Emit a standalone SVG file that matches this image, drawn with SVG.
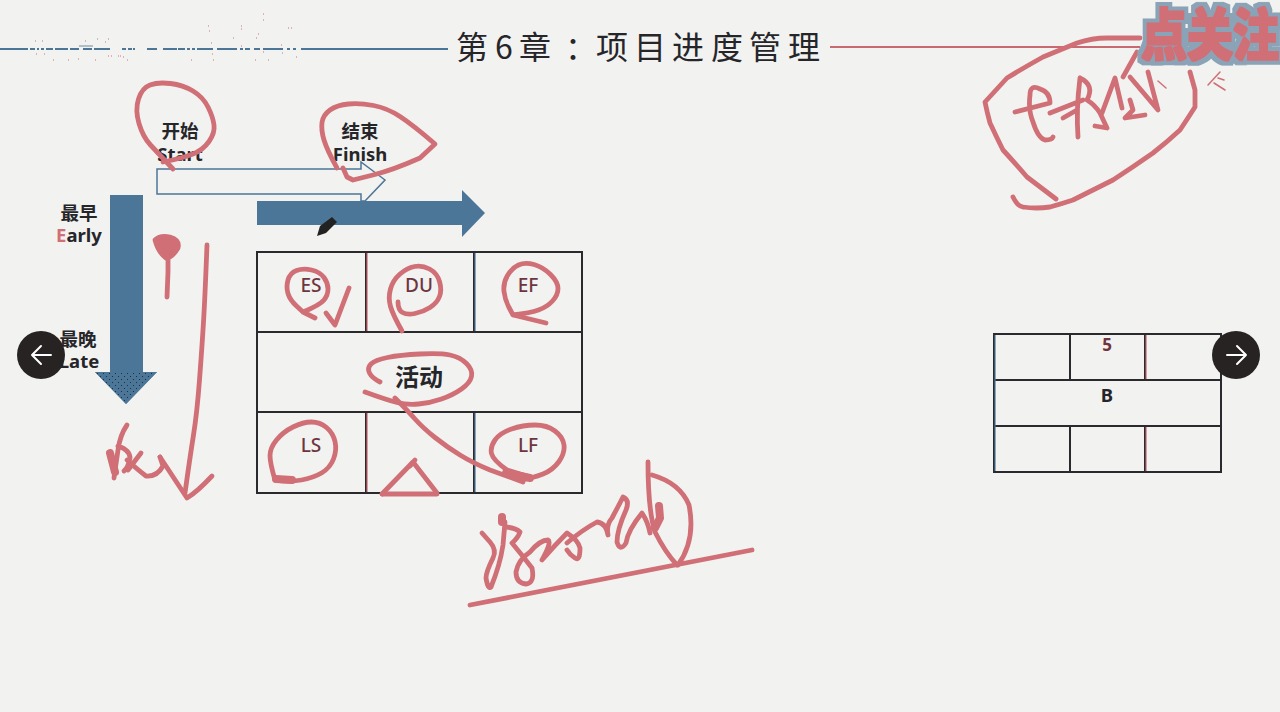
<svg xmlns="http://www.w3.org/2000/svg" width="1280" height="712" viewBox="0 0 1280 712">
<style>
.bg{fill:#f2f2f0}
.cjk{font-family:"Noto Sans CJK SC","Noto Sans",sans-serif}
.lbl{font-family:"Noto Sans","Noto Sans CJK SC",sans-serif;font-weight:700;font-size:18.500px;fill:#26262a;text-anchor:middle}
.cell{font-family:"Noto Sans","Noto Sans CJK SC",sans-serif;font-weight:500;font-size:19px;fill:#6e3540;text-anchor:middle}
.grid{fill:none;stroke:#2a2a2e;stroke-width:2}
.tint-r{fill:none;stroke:#c9636c;stroke-width:1.200}
.tint-b{fill:none;stroke:#4c7698;stroke-width:1.200}
.ink{fill:none;stroke:#d06f76;stroke-width:4.800;stroke-linecap:round;stroke-linejoin:round}
.thin{stroke-width:1.500}
.thick{stroke-width:8}
.blue{fill:#4c7698}
.btn{fill:#262322}
.chev{fill:none;stroke:#fff;stroke-width:2;stroke-linecap:round;stroke-linejoin:round}
</style>
<defs>
<pattern id="dots" width="6" height="6" patternUnits="userSpaceOnUse"><rect width="6" height="6" fill="#4c7698"/><rect x="1" y="1" width="1" height="1" fill="#22303c"/><rect x="4" y="4" width="1" height="1" fill="#22303c"/></pattern>
<filter id="halo" x="-10%" y="-30%" width="120%" height="160%" color-interpolation-filters="sRGB">
<feMorphology in="SourceAlpha" operator="dilate" radius="5" result="wide"/>
<feFlood flood-color="#8ba3b6"/>
<feComposite in2="wide" operator="in" result="ring"/>
<feMorphology in="SourceAlpha" operator="dilate" radius="1.200" result="fat"/>
<feFlood flood-color="#d06f76"/>
<feComposite in2="fat" operator="in" result="body"/>
<feMerge><feMergeNode in="ring"/><feMergeNode in="body"/></feMerge>
</filter>
</defs>
<rect class="bg" width="1280" height="712"/>

<g id="title">
<path d="M0 49H28M30 49H35M37 49H39M41 49H44M46 49H53M55 49H68M70 49H79M83 49H92M94 49H110M122 49H126M128 49H132M133 49H135M147 49H157M163 49H177M178 49H185M187 49H190M192 49H195M197 49H213M217 49H237M240 49H243M245 49H250M254 49H260M263 49H283M287 49H290M293 49H296M301 49H448" fill="none" stroke="#4c7698" stroke-width="1.800"/>
<path d="M79 46H93" stroke="#6b8aa5" stroke-width="1" fill="none"/>
<path d="M35 41h1M42 41h1M36 54h1M44 54h1M53 60h1M68 60h1M78 59h1M85 41h1M97 39h1M108 39h1M105 42h1M95 60h1M108 56h1M111 56h1M118 56h1M120 56h1M123 57h1M127 60h1M191 60h1M208 26h1M209 31h1M211 43h1M212 54h1M213 60h1M233 38h1M241 46h1M241 26h1M241 29h1M256 38h1M263 52h1M263 20h1M263 14h1M258 34h1M255 60h1M268 60h1M281 45h1M282 53h1M288 28h1M291 28h1M296 57h1" stroke="#d06f76" stroke-width="1" fill="none"/>
<path d="M830 47H1140" fill="none" stroke="#c96a72" stroke-width="2"/>
<text class="cjk" font-size="32" font-weight="400" fill="#26262a" y="59" x="456 495 519 565 596 634 672 711 749 788">第6章：项目进度管理</text>
</g>

<g id="node-start">
<text class="lbl" x="180" y="138">开始</text>
<text class="lbl" x="180" y="161">Start</text>
</g>
<g id="node-finish">
<text class="lbl" x="360" y="138">结束</text>
<text class="lbl" x="360" y="161">Finish</text>
</g>
<g id="node-early">
<text class="lbl" x="79" y="220">最早</text>
<text class="lbl" x="79" y="242"><tspan fill="#d06f76">E</tspan>arly</text>
</g>
<g id="node-late">
<text class="lbl" x="78" y="346">最晚</text>
<text class="lbl" x="79" y="368">Late</text>
</g>

<g id="arrows">
<path id="arrow-outline" d="M157 169H361V162L385 180L365 201H361V194H157Z" fill="#f2f2f0" stroke="#4c7698" stroke-width="1.500"/>
<path id="arrow-right" class="blue" d="M257 201H462V190L485 213L462 237V225H257Z"/>
<path id="arrow-down" class="blue" d="M110 195H143V372H157L126 404L95 372H110Z"/>
<path d="M95 372H157L126 404Z" fill="url(#dots)"/>
<path id="pen" d="M317 236L320 226L332 217L337 222L326 233Z" fill="#222"/>
</g>

<g id="node-activity-table">
<path class="grid" d="M257 252H582V493H257ZM257 332H582M257 412H582M366 252V332M474 252V332M366 412V493M474 412V493"/>
<path class="tint-r" d="M367 253V331M367 413V492"/>
<path class="tint-b" d="M475 253V331M475 413V492"/>
<text class="cell" x="311" y="292">ES</text>
<text class="cell" x="419" y="292">DU</text>
<text class="cell" x="528" y="292">EF</text>
<text class="cjk" x="419" y="386" font-size="24" font-weight="700" fill="#26262a" text-anchor="middle">活动</text>
<text class="cell" x="311" y="452">LS</text>
<text class="cell" x="528" y="452">LF</text>
</g>

<g id="node-b-table">
<path class="grid" d="M994 334H1221V472H994ZM994 380H1221M994 426H1221M1070 334V380M1145 334V380M1070 426V472M1145 426V472"/>
<path class="tint-r" d="M1146 335V379M1146 427V471"/>
<path class="tint-b" d="M995 335V471"/>
<text class="cell" x="1107" y="351" style="font-size:17px;font-weight:700">5</text>
<text class="lbl" x="1107" y="402">B</text>
</g>

<g id="ink" class="ink">
<path d="M173 169Q158 153 150.500 145Q143 137 139 123.500Q135 110 138.500 99Q142 88 150 85Q158 82 170.500 83.500Q183 85 193 91Q203 97 208 107Q213 117 214 125Q215 133 209 141.500Q203 150 193 154Q183 158 163 162"/>
<path d="M337 168Q327 150 324 140Q321 130 322 122.500Q323 115 330 110Q337 105 348.500 104Q360 103 373.500 105.500Q387 108 400 116.500Q413 125 435 144L420 158Q393 170 373 175L353 180L347 177L343 168"/>
<path d="M315 318L303 312L296.500 306Q290 300 288 293.500Q286 287 288 280Q290 273 296.500 270.500Q303 268 311.500 270Q320 272 324 277.500Q328 283 328 289Q328 295 324 300Q320 305 303 312"/>
<path d="M326 313L335 325L349 288"/>
<path d="M402 331Q393 315 390.500 306.500Q388 298 390.500 289Q393 280 400 274Q407 268 414.500 266.500Q422 265 429.500 269Q437 273 439.500 281.500Q442 290 439.500 296.500Q437 303 430 307.500Q423 312 415 313.500Q407 315 402.500 312.500Q398 310 398 302"/>
<path d="M546 323L513 315L509 307.500Q505 300 504 291.500Q503 283 507.500 275.500Q512 268 518.500 265Q525 262 534 264.500Q543 267 550.500 274.500Q558 282 558 288.500Q558 295 552.500 301Q547 307 538.500 310Q530 313 513 315"/>
<path d="M380 382Q372 378 369.500 373Q367 368 371 364Q375 360 387.500 357.500Q400 355 420 354Q440 353 450 355Q460 357 466.500 363.500Q473 370 471.500 376.500Q470 383 461.500 389Q453 395 441.500 399Q430 403 418.500 404Q407 405 397 402.500Q387 400 365 392"/>
<path d="M395 398Q407 410 415 419Q423 428 435 437.500Q447 447 460 455Q473 463 490 470L523 482"/>
<path d="M530 477L507 470Q493 460 491.500 453.500Q490 447 495 440Q500 433 511.500 429Q523 425 535 425Q547 425 555 431Q563 437 564 445Q565 453 559 461.500Q553 470 543 474Q533 478 520 480"/>
<path class="thick" d="M506 473L530 478"/>
<path d="M275 480Q270 463 270 455.500Q270 448 276.500 440Q283 432 293 427Q303 422 311.500 422Q320 422 326.500 427.500Q333 433 335 441.500Q337 450 333.500 459Q330 468 321.500 473Q313 478 301.500 480Q290 482 275 480"/>
<path class="thick" d="M276 479L292 480"/>
<path d="M382 494L413 462L437 493"/>
<path d="M382 494H437"/>
<path d="M410 466L415 460"/>
<path d="M207 245Q205 297 203.500 322Q202 347 199.500 380Q197 413 193.500 435Q190 457 185 493"/>
<path d="M160 457L187 498Q197 492 212 476"/>
<path d="M155 240Q160 235 170 237Q180 240 178 248Q172 258 166 258Q158 252 155 240Z" fill="#d06f76"/>
<path d="M168 258L168 272L167 297"/>
<path d="M127 425Q120 435 118 450L114 478M118 446Q130 450 130 458Q128 468 124 471M141 453L128 470M127 460Q138 470 146 476Q157 477 163 466L160 457"/>
<path class="thick" d="M110 453L115 472"/>
<path d="M482 533L490 542Q497 550 493 558Q486 572 486 578Q488 590 491 587Q500 565 503 545L505 522"/>
<path class="thick" d="M502 517V522"/>
<path d="M506 527Q516 528 520 532Q518 538 512 543Q522 555 532 568Q535 583 526 584Q516 583 516 572Q518 560 530 552Q540 540 548 540Q552 542 542 560Q555 545 567 533Q578 540 580 548Q580 562 575 558Q570 555 567 550"/>
<path d="M567 543Q582 530 597 522Q606 523 608 535Q606 525 612 518Q620 503 623 497Q630 500 626 510Q617 530 617 542Q620 552 626 543Q628 530 642 513Q648 522 650 533"/>
<path class="thick" d="M659 506L660 518L655 528"/>
<path d="M648 462Q648 510 655 532Q665 552 677 565"/>
<path d="M652 475Q680 483 689 505Q696 540 678 565"/>
<path d="M470 605L752 550"/>
<path d="M1140 38L1107 38Q1092 38 1077 43Q1060 50 1043 57Q1025 67 1007 78Q996 90 985 102Q987 112 990 123Q996 136 1003 150Q1015 163 1027 177L1056 199"/>
<path d="M1013 197Q1018 207 1023 207Q1036 209 1050 207Q1061 204 1073 200Q1093 190 1113 180Q1133 167 1153 153Q1167 142 1180 130Q1188 118 1195 107Q1195 98 1195 90L1190 72"/>
<path d="M1015 112L1050 103Q1050 92 1040 89Q1030 84 1030 95Q1028 110 1033 122Q1038 138 1045 140Q1052 140 1053 137"/>
<path d="M1050 113L1083 100M1063 118L1077 110M1080 78Q1076 110 1078 137M1080 78Q1095 85 1087 100Q1095 105 1100 113L1107 128L1095 126"/>
<path d="M1102 113L1115 78L1122 108M1123 77L1137 52M1130 77L1158 110L1148 72M1130 100L1133 110L1125 118L1145 115"/>
<path class="thin" d="M1158 81L1166 88M1208 85L1220 72M1214 83L1225 90M1218 78L1224 80"/>
</g>

<g id="watermark" filter="url(#halo)">
<text class="cjk" transform="translate(1141 55) scale(1 1.200)" font-size="46" font-weight="900" fill="#d06f76">点关注</text>
</g>

<g id="nav-prev">
<circle class="btn" cx="41" cy="355" r="24"/>
<path class="chev" d="M32 355H51M41 346L32 355L41 364"/>
</g>
<g id="nav-next">
<circle class="btn" cx="1236" cy="355" r="24"/>
<path class="chev" d="M1227 355H1246M1237 346L1246 355L1237 364"/>
</g>
</svg>
